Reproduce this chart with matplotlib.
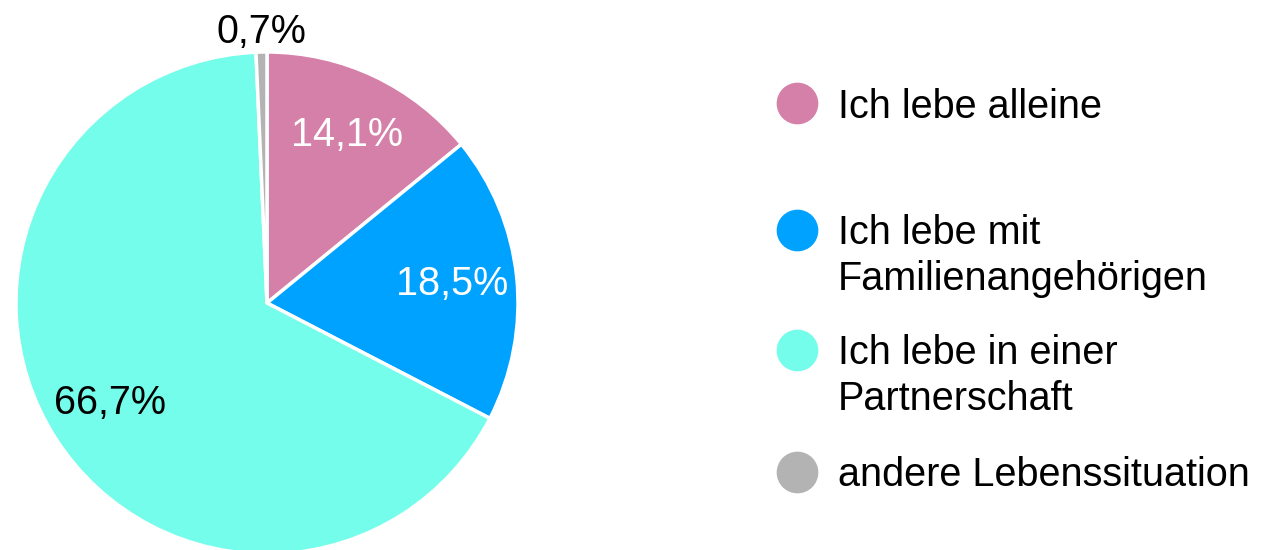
import numpy as np
import matplotlib.pyplot as plt

plt.rcParams['font.family'] = ['Liberation Sans', 'DejaVu Sans']

labels = ["Ich lebe alleine", "Ich lebe mit\nFamilienangehörigen",
          "Ich lebe in einer\nPartnerschaft", "andere Lebenssituation"]
values = [14.1, 18.5, 66.7, 0.7]
colors = ["#D580A8", "#00A2FF", "#73FDEA", "#B3B3B3"]
text_colors = ["white", "white", "black", "black"]

fig = plt.figure(figsize=(12.63, 5.5), dpi=100)
ax = fig.add_axes([16 / 1263, -4 / 550, 502 / 1263, 502 / 550])

wedges, _ = ax.pie(values, colors=colors, startangle=90, counterclock=False,
                   wedgeprops=dict(edgecolor="white", linewidth=2.5))
ax.set_xlim(-1, 1)
ax.set_ylim(-1, 1)
ax.set_aspect('equal')
ax.axis('off')

for w, v, tc in zip(wedges, values, text_colors):
    mid = np.deg2rad((w.theta1 + w.theta2) / 2)
    r = 1.08 if v < 2 else 0.74
    ax.text(r * np.cos(mid), r * np.sin(mid), f"{v:.1f}%".replace('.', ','),
            ha='center', va='center', fontsize=28.5, color=tc, clip_on=False)

# legend
leg_y = [103, 230, 350, 472]
for lab, c, y in zip(labels, colors, leg_y):
    fy = 1 - y / 550
    fig.add_artist(plt.Line2D([797 / 1263], [fy], marker='o', markersize=29,
                              color=c, linestyle='none'))
    for i, line in enumerate(lab.split('\n')):
        fig.text(838 / 1263, fy - (14.5 + 46 * i) / 550, line, ha='left',
                 va='baseline', fontsize=28.5, color='black')

fig.savefig("out.png", dpi=100)
